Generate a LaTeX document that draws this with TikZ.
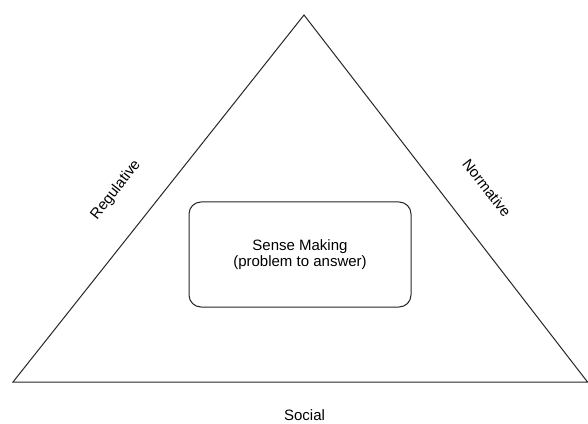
\documentclass[tikz,border=0pt]{standalone}
\usepackage{fontspec}
\setmainfont{Liberation Sans}
\begin{document}
\begin{tikzpicture}[x=1pt,y=1pt,
  edge/.style={draw=black!85,line width=1pt,line join=miter},
  lbl/.style={font=\fontsize{15}{16}\selectfont,inner sep=0pt},
  box/.style={draw=black!85,line width=1pt,rounded corners=12pt,minimum width=222pt,minimum height=105pt,align=center,font=\fontsize{15}{15.5}\selectfont}]
\useasboundingbox (0,0) rectangle (588,423);
\coordinate (apex) at (304,408);
\coordinate (bl) at (13,41);
\coordinate (br) at (587.5,41);
\draw[edge] (bl) -- (apex) -- (br) -- cycle;
\node[box] (sense) at (300,168.5) {Sense Making\\(problem to answer)};
\node[lbl,rotate=52] (reg) at (116,233) {Regulative};
\node[lbl,rotate=-52] (norm) at (487,235) {Normative};
\node[lbl,anchor=base] (soc) at (304.5,2.5) {Social};
\end{tikzpicture}
\end{document}
